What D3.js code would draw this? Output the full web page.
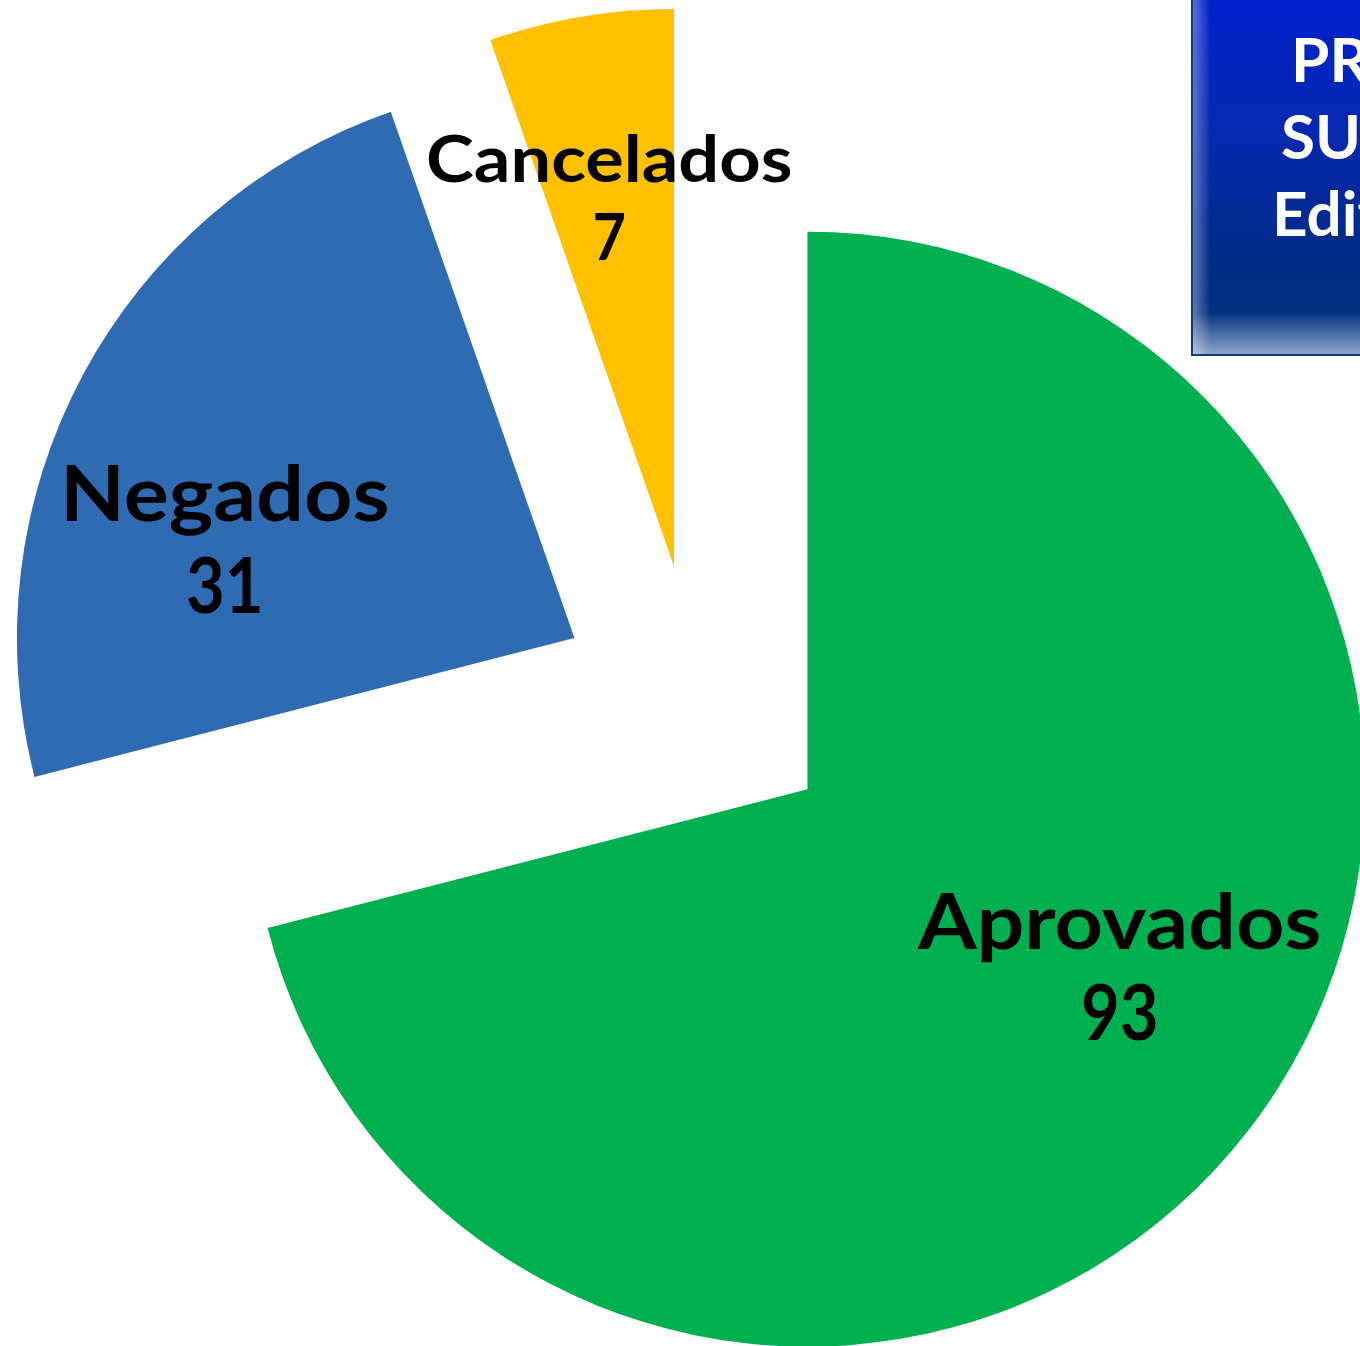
<!DOCTYPE html>
<html>
<head>
<meta charset="utf-8">
<script src="https://cdn.jsdelivr.net/npm/d3@7"></script>
<style>
  html, body { margin: 0; padding: 0; background: #fff; overflow: hidden; }
  svg { display: block; }
  .lbl { font-family: Lato, "DejaVu Sans", sans-serif; font-weight: 700; fill: #000; }
  .ttl { font-family: Lato, "DejaVu Sans", sans-serif; font-weight: 700; fill: #fff; }
</style>
</head>
<body>
<svg width="1360" height="1346"></svg>
<script>
// chart data
const categories = ['Aprovados', 'Negados', 'Cancelados'];
const values = [93, 31, 7];
const colors = ['#00B050', '#2E6BB3', '#FFC000'];
const titleLines = ['PROJETOS', 'SUBMETIDOS', 'Edital'];

// layout
const cx = 697.3, cy = 703.8;
const radius = 557.5;
const explode = 0.25 * radius;
// label tweaks: degrees off the mid angle, distance (x radius), font size
const labelShift = { Aprovados: -4.5, Negados: -16.7, Cancelados: -1 };
const labelDist = { Aprovados: 0.67, Negados: 0.64, Cancelados: 0.63 };
const labelSize = { Aprovados: 76, Negados: 76, Cancelados: 65 };
// lato is narrower than the original font in the words, wider in the digits
const nameStretch = 1.11, valueStretch = 0.88;

const data = categories.map((c, i) => ({ name: c, value: values[i] }));

const svg = d3.select('svg');

const pie = d3.pie().sort(null).value(d => d.value);
const arc = d3.arc().innerRadius(0).outerRadius(radius);
const color = d3.scaleOrdinal().domain(categories).range(colors);

const slices = pie(data);
slices.forEach(d => {
  const mid = (d.startAngle + d.endAngle) / 2;
  d.ox = cx + Math.sin(mid) * explode;
  d.oy = cy - Math.cos(mid) * explode;
  const la = mid + labelShift[d.data.name] * Math.PI / 180;
  const ld = labelDist[d.data.name] * radius;
  d.lx = d.ox + Math.sin(la) * ld;
  d.ly = d.oy - Math.cos(la) * ld;
});

svg.selectAll('.slice')
  .data(slices)
  .enter()
  .append('path')
  .attr('class', 'slice')
  .attr('transform', d => `translate(${d.ox},${d.oy})`)
  .attr('d', arc)
  .attr('fill', d => color(d.data.name));

// labels: name on top, value below
const lbl = svg.selectAll('.lbl')
  .data(slices)
  .enter()
  .append('text')
  .attr('class', 'lbl')
  .attr('text-anchor', 'middle')
  .style('font-size', d => labelSize[d.data.name] + 'px');

lbl.append('tspan')
  .attr('class', 'nm')
  .attr('x', d => d.lx)
  .attr('y', d => d.ly - labelSize[d.data.name] * 0.6)
  .text(d => d.data.name);

lbl.append('tspan')
  .attr('class', 'vl')
  .attr('x', d => d.lx)
  .attr('y', d => d.ly + labelSize[d.data.name] * 0.6)
  .text(d => d.data.value);

lbl.selectAll('tspan').each(function () {
  const k = this.classList.contains('nm') ? nameStretch : valueStretch;
  const w = this.getComputedTextLength();
  d3.select(this).attr('textLength', w * k).attr('lengthAdjust', 'spacingAndGlyphs');
});

// title box, top right (runs off the page)
const defs = svg.append('defs');
const g1 = defs.append('linearGradient')
  .attr('id', 'boxFill').attr('x1', 0).attr('y1', 0).attr('x2', 0).attr('y2', 1);
[[0, '#0020cc'], [0.35, '#0628b2'], [0.75, '#002b84'], [0.88, '#02307e'], [1, '#93a6ca']]
  .forEach(s => g1.append('stop').attr('offset', s[0]).attr('stop-color', s[1]));
const g2 = defs.append('linearGradient')
  .attr('id', 'boxEdge').attr('x1', 0).attr('y1', 0).attr('x2', 1).attr('y2', 0);
[[0, 'rgba(255,255,255,0.35)'], [0.09, 'rgba(255,255,255,0)'], [1, 'rgba(255,255,255,0)']]
  .forEach(s => g2.append('stop').attr('offset', s[0]).attr('stop-color', s[1]));

const box = svg.append('g');
box.append('rect')
  .attr('x', 1192).attr('y', -3).attr('width', 200).attr('height', 358)
  .attr('fill', 'url(#boxFill)')
  .attr('stroke', '#16397c').attr('stroke-width', 2);
box.append('rect')
  .attr('x', 1193).attr('y', -2).attr('width', 200).attr('height', 356)
  .attr('fill', 'url(#boxEdge)');

const titleX = [1291, 1281, 1272];
box.selectAll('.ttl')
  .data(titleLines)
  .enter()
  .append('text')
  .attr('class', 'ttl')
  .attr('x', (d, i) => titleX[i])
  .attr('y', (d, i) => 82 + i * 77)
  .style('font-size', '62px')
  .text(d => d);
</script>
</body>
</html>
